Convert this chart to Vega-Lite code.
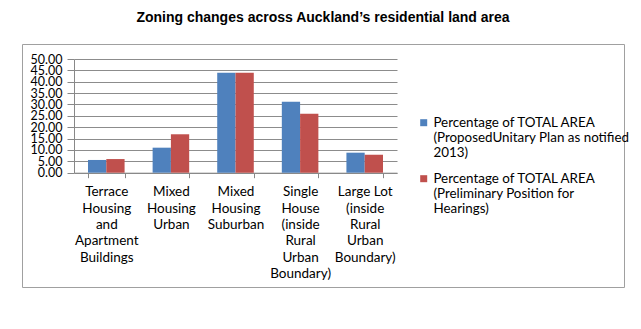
{
  "$schema": "https://vega.github.io/schema/vega-lite/v6.json",
  "autosize": "none",
  "padding": {"left": 22, "top": 44, "right": 17, "bottom": 42},
  "width": 602,
  "height": 243,
  "background": "white",
  "title": {
    "text": "Zoning changes across Auckland’s residential land area",
    "font": "Liberation Sans",
    "fontSize": 14,
    "fontWeight": "bold",
    "color": "#000000",
    "anchor": "middle",
    "offset": 19
  },
  "data": {
    "values": [
      {"zone": "Terrace Housing and Apartment Buildings", "series": "Proposed", "value": 5.6},
      {"zone": "Terrace Housing and Apartment Buildings", "series": "Preliminary", "value": 6.0},
      {"zone": "Mixed Housing Urban", "series": "Proposed", "value": 11.0},
      {"zone": "Mixed Housing Urban", "series": "Preliminary", "value": 16.9},
      {"zone": "Mixed Housing Suburban", "series": "Proposed", "value": 44.0},
      {"zone": "Mixed Housing Suburban", "series": "Preliminary", "value": 44.0},
      {"zone": "Single House (inside Rural Urban Boundary)", "series": "Proposed", "value": 31.2},
      {"zone": "Single House (inside Rural Urban Boundary)", "series": "Preliminary", "value": 25.9},
      {"zone": "Large Lot (inside Rural Urban Boundary)", "series": "Proposed", "value": 8.8},
      {"zone": "Large Lot (inside Rural Urban Boundary)", "series": "Preliminary", "value": 7.9}
    ]
  },
  "mark": {"type": "bar"},
  "encoding": {
    "x": {
      "field": "zone",
      "type": "nominal",
      "sort": null,
      "scale": {"range": [52, 375], "paddingInner": 0.434, "paddingOuter": 0.217},
      "axis": {
        "title": null,
        "orient": "bottom",
        "offset": -114.3,
        "labelAngle": 0,
        "tickBand": "extent",
        "tickSize": 5,
        "tickColor": "#888888",
        "domainColor": "#888888",
        "labelFont": "Lato",
        "labelFontSize": 13.5,
        "labelColor": "#000000",
        "labelLineHeight": 16.4,
        "labelPadding": 7,
        "labelBaseline": "top",
        "grid": false,
        "labelExpr": "datum.label == 'Terrace Housing and Apartment Buildings' ? ['Terrace','Housing','and','Apartment','Buildings'] : datum.label == 'Mixed Housing Urban' ? ['Mixed','Housing','Urban'] : datum.label == 'Mixed Housing Suburban' ? ['Mixed','Housing','Suburban'] : datum.label == 'Single House (inside Rural Urban Boundary)' ? ['Single','House','(inside','Rural','Urban','Boundary)'] : datum.label == 'Large Lot (inside Rural Urban Boundary)' ? ['Large Lot','(inside','Rural','Urban','Boundary)'] : ''"
      }
    },
    "xOffset": {
      "field": "series",
      "type": "nominal",
      "sort": ["Proposed", "Preliminary"],
      "scale": {"paddingInner": 0, "paddingOuter": 0}
    },
    "y": {
      "field": "value",
      "type": "quantitative",
      "scale": {"domain": [0, 50], "range": [128.7, 15], "nice": false, "zero": true},
      "axis": {
        "title": null,
        "offset": -52,
        "values": [0, 5, 10, 15, 20, 25, 30, 35, 40, 45, 50],
        "format": ".2f",
        "labelOverlap": false,
        "labelFont": "Lato",
        "labelFontSize": 12.5,
        "labelColor": "#000000",
        "labelPadding": 5,
        "tickSize": 7,
        "tickColor": "#888888",
        "domainColor": "#888888",
        "grid": true,
        "gridColor": "#8c8c8c",
        "gridWidth": 1
      }
    },
    "color": {
      "field": "series",
      "type": "nominal",
      "sort": ["Proposed", "Preliminary"],
      "scale": {"domain": ["Proposed", "Preliminary"], "range": ["#4F81BD", "#C0504D"]},
      "legend": {
        "title": null,
        "orient": "none",
        "legendX": 395,
        "legendY": 72,
        "padding": 0,
        "symbolType": "square",
        "symbolSize": 49,
        "symbolStrokeWidth": 0,
        "symbolOpacity": 1,
        "labelFont": "Lato",
        "labelFontSize": 13.4,
        "labelColor": "#000000",
        "labelLineHeight": 15,
        "labelLimit": 300,
        "labelOffset": 3,
        "rowPadding": 11,
        "labelExpr": "datum.label == 'Proposed' ? ['Percentage of TOTAL AREA','(ProposedUnitary Plan as notified','2013)'] : ['Percentage of TOTAL AREA','(Preliminary Position for','Hearings)']"
      }
    }
  },
  "config": {
    "view": {"stroke": "#A0A0A0", "strokeWidth": 1},
    "axis": {"domainWidth": 1, "tickWidth": 1}
  }
}
